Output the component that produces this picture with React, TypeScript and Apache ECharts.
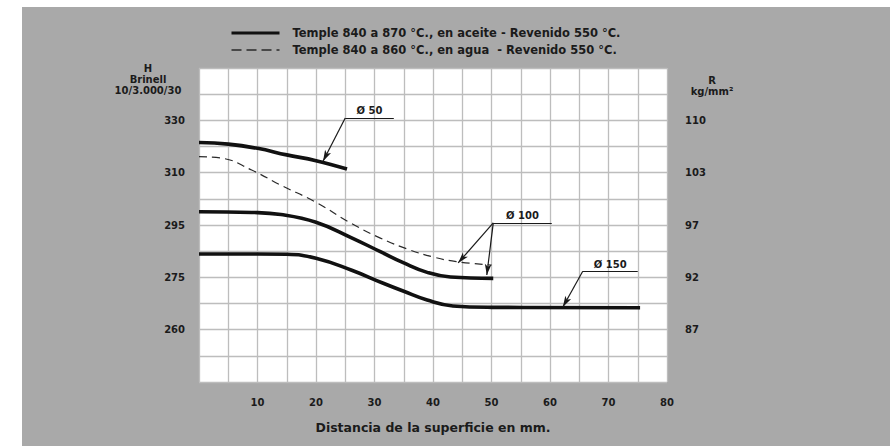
import React, { useEffect, useRef } from "react";
import * as echarts from "echarts";

// ---- Data (mm from surface, Brinell hardness) ----
const oilName = "Temple 840 a 870 °C., en aceite - Revenido 550 °C.";
const waterName = "Temple 840 a 860 °C., en agua  - Revenido 550 °C.";

const d50Oil: [number, number][] = [
  [0, 321.5], [5, 320.9], [10, 319.3], [15, 316.8], [20, 314.6], [25.3, 311.4],
];
const d100Water: [number, number][] = [
  [0, 316.1], [4, 315.5], [9, 311], [14, 306.4], [20, 301.5], [26, 295.5],
  [31, 290], [36, 285.5], [40, 282.8], [44, 281], [50, 279.7],
];
const d100Oil: [number, number][] = [
  [0, 298.8], [9, 298.6], [14, 298], [20, 295.8], [26, 290.2], [31, 284.8],
  [35, 280.5], [39, 276.9], [43, 275.1], [50.3, 274.7],
];
const d150Oil: [number, number][] = [
  [0, 283.9], [10, 283.9], [15, 283.8], [20, 282.3], [26, 277.8], [31.5, 273.3],
  [35, 271], [39, 268.5], [43.4, 266.8], [50, 266.4], [75.4, 266.3],
];

// Tick labels
const xTickLabels = [10, 20, 30, 40, 50, 60, 70, 80];
const hTicks = [260, 275, 295, 310, 330]; // Brinell (left)
const rTicks = [87, 92, 97, 103, 110]; // kg/mm² (right)
const tickRows = [2, 4, 6, 8, 10]; // grid rows at which the ticks sit

// Annotations (mm, Brinell)
const annotations = [
  { label: "Ø 50", anchor: [25, 330.9], end: [33.3, 330.9], tips: [[21.2, 314.4]] },
  { label: "Ø 100", anchor: [50.3, 295.6], end: [60.3, 295.6], tips: [[44.3, 280.5], [49.2, 275.9]] },
  { label: "Ø 150", anchor: [65.6, 277.3], end: [75, 277.3], tips: [[62.2, 266.5]] },
];

// piecewise mapping of the non-uniform Brinell scale onto grid rows
function toRow(h: number): number {
  const n = hTicks.length;
  let i = 0;
  if (h <= hTicks[0]) i = 0;
  else if (h >= hTicks[n - 1]) i = n - 2;
  else {
    while (i < n - 2 && h > hTicks[i + 1]) i++;
  }
  const t = (h - hTicks[i]) / (hTicks[i + 1] - hTicks[i]);
  return tickRows[i] + t * (tickRows[i + 1] - tickRows[i]);
}

const TXT = "#1b1b1b";
const FONT = "DejaVu Sans";

function markLineFor(a: typeof annotations[number]) {
  const anchor = [a.anchor[0], toRow(a.anchor[1])];
  const data: any[] = a.tips.map((t) => [
    { coord: anchor, symbol: "none" },
    { coord: [t[0], toRow(t[1])], symbol: "arrow" },
  ]);
  data.push([
    {
      coord: anchor,
      symbol: "none",
      label: {
        show: true,
        formatter: a.label,
        position: "insideMiddleTop",
        distance: 2,
        color: TXT,
        fontFamily: FONT,
        fontWeight: "bold",
        fontSize: 10,
      },
    },
    { coord: [a.end[0], toRow(a.end[1])], symbol: "none" },
  ]);
  return {
    silent: true,
    symbolSize: [5, 11],
    lineStyle: { color: "#1a1a1a", width: 1.2, type: "solid" },
    label: { show: false },
    emphasis: { disabled: true },
    data,
  };
}

export default function App() {
  const ref = useRef<HTMLDivElement>(null);
  useEffect(() => {
    document.body.style.margin = "0";
    if (!ref.current) return;
    const chart = echarts.init(ref.current, null, { renderer: "svg" });
    const axisLabelBase = {
      color: TXT,
      fontFamily: FONT,
      fontWeight: "bold" as const,
      fontSize: 10,
    };
    const lineSeries = (name: string, data: [number, number][], dashed: boolean, ann?: any) => ({
      type: "line",
      name,
      data: data.map(([x, h]) => [x, toRow(h)]),
      smooth: 0.45,
      symbol: "none",
      lineStyle: dashed
        ? { color: "#2a2a2a", width: 1.2, type: [8, 5] }
        : { color: "#111111", width: 3.6, type: "solid" },
      itemStyle: { color: dashed ? "#2a2a2a" : "#111111" },
      emphasis: { disabled: true },
      markLine: ann ? markLineFor(ann) : undefined,
      z: dashed ? 3 : 4,
    });
    const titleFont = `bold 10px "${FONT}"`;
    chart.setOption({
      animation: false,
      backgroundColor: "#a9a9a9",
      textStyle: { fontFamily: FONT },
      grid: {
        left: 177,
        top: 61,
        right: 223,
        bottom: 64,
        show: true,
        backgroundColor: "#ffffff",
        borderWidth: 0,
      },
      legend: {
        orient: "vertical",
        left: 203,
        top: 15,
        itemWidth: 48,
        itemHeight: 14,
        itemGap: 5,
        data: [
          { name: oilName, lineStyle: { width: 3, color: "#111111" } },
          { name: waterName, lineStyle: { width: 1.4, color: "#2a2a2a", type: [10, 5] } },
        ],
        itemStyle: { opacity: 0, borderWidth: 0 },
        textStyle: { ...axisLabelBase, fontSize: 11.5, padding: [0, 0, 0, 8] },
        selectedMode: false,
      },
      xAxis: {
        type: "value",
        min: 0,
        max: 80,
        interval: 5,
        axisLine: { show: false },
        axisTick: { show: false },
        splitLine: { show: true, lineStyle: { color: "#bdbdbd", width: 1.3 } },
        axisLabel: {
          ...axisLabelBase,
          margin: 15,
          showMaxLabel: true,
          showMinLabel: true,
          formatter: (v: number) => (xTickLabels.includes(v) ? String(v) : ""),
        },
        name: "Distancia de la superficie en mm.",
        nameLocation: "middle",
        nameGap: 39,
        nameTextStyle: { ...axisLabelBase, fontSize: 12.5 },
      },
      yAxis: [
        {
          type: "value",
          position: "left",
          min: 0,
          max: 12,
          interval: 1,
          axisLine: { show: false },
          axisTick: { show: false },
          splitLine: { show: true, lineStyle: { color: "#bdbdbd", width: 1.3 } },
          axisLabel: {
            ...axisLabelBase,
            margin: 14,
            formatter: (v: number) => {
              const i = tickRows.indexOf(v);
              return i >= 0 ? String(hTicks[i]) : "";
            },
          },
        },
        {
          type: "value",
          position: "right",
          min: 0,
          max: 12,
          interval: 1,
          axisLine: { show: false },
          axisTick: { show: false },
          splitLine: { show: false },
          axisLabel: {
            ...axisLabelBase,
            margin: 18,
            formatter: (v: number) => {
              const i = tickRows.indexOf(v);
              return i >= 0 ? String(rTicks[i]) : "";
            },
          },
        },
      ],
      graphic: [
        { type: "text", x: 126, y: 61, style: { text: "H", font: titleFont, fill: TXT, align: "center", verticalAlign: "middle" } },
        { type: "text", x: 126, y: 72, style: { text: "Brinell", font: titleFont, fill: TXT, align: "center", verticalAlign: "middle" } },
        { type: "text", x: 126, y: 83, style: { text: "10/3.000/30", font: titleFont, fill: TXT, align: "center", verticalAlign: "middle" } },
        { type: "text", x: 690, y: 73, style: { text: "R", font: titleFont, fill: TXT, align: "center", verticalAlign: "middle" } },
        { type: "text", x: 690, y: 84, style: { text: "kg/mm²", font: titleFont, fill: TXT, align: "center", verticalAlign: "middle" } },
      ],
      series: [
        lineSeries(oilName, d50Oil, false, annotations[0]),
        lineSeries(waterName, d100Water, true),
        lineSeries(oilName, d100Oil, false, annotations[1]),
        lineSeries(oilName, d150Oil, false, annotations[2]),
      ],
    });
    return () => chart.dispose();
  }, []);
  return (
    <div style={{ position: "relative", width: 890, height: 446, background: "#ffffff", overflow: "hidden" }}>
      <div ref={ref} style={{ position: "absolute", left: 22, top: 7, width: 868, height: 439 }} />
    </div>
  );
}
